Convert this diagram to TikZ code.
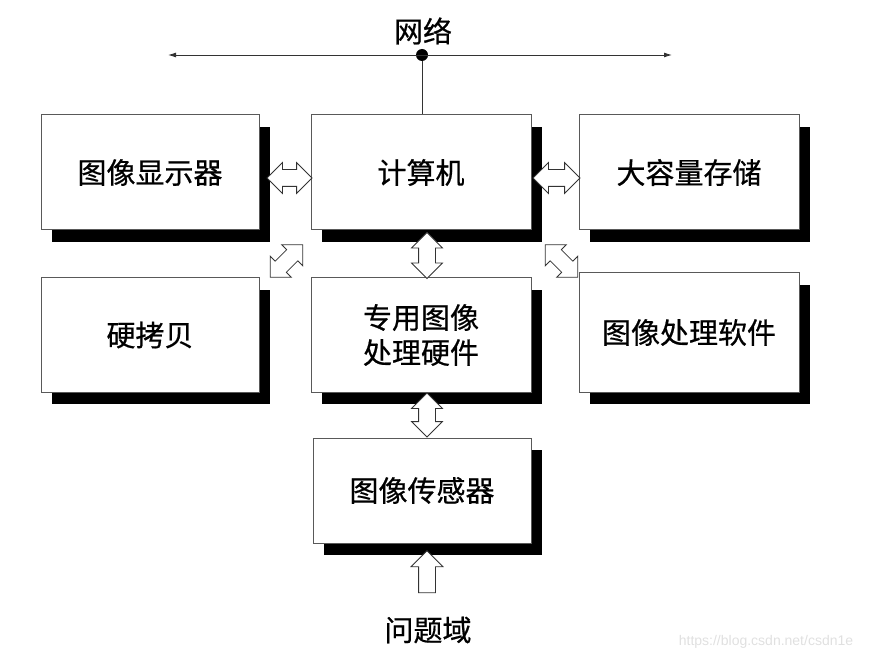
\documentclass[tikz,border=0pt]{standalone}
\usepackage{fontspec}
\newfontfamily\cjk[FakeBold=0.6]{Noto Sans CJK SC}
\newfontfamily\wmfont{Liberation Sans}
\usetikzlibrary{shapes.arrows,shadows,arrows.meta,calc}
\tikzset{
  blk/.style={draw=black!65, line width=1pt, fill=white, inner sep=0pt,
    font=\cjk\fontsize{29}{35}\selectfont, align=center,
    drop shadow={shadow xshift=11pt, shadow yshift=-12pt, fill=black, opacity=1}},
  darr/.style={double arrow, draw=black!80, line width=0.8pt, fill=white,
    inner xsep=0pt, inner ysep=8pt, minimum width=0pt,
    double arrow head extend=7pt, double arrow tip angle=90},
  sarr/.style={single arrow, draw=black!80, line width=0.8pt, fill=white,
    inner xsep=0pt, inner ysep=8pt, minimum width=0pt,
    single arrow head extend=7.5pt, single arrow tip angle=90},
  dgarr/.style={double arrow, draw=black!80, line width=0.8pt, fill=white,
    inner xsep=0pt, inner ysep=7.5pt, minimum width=0pt,
    double arrow head extend=7pt, double arrow tip angle=90},
  lbl/.style={font=\cjk\fontsize{29}{35}\selectfont, inner sep=0pt}
}
\begin{document}
\begin{tikzpicture}[x=1pt,y=-1pt]
\useasboundingbox (0,0) rectangle (875,660);
% network
\node[lbl] (net) at (423,31) {网络};
\coordinate (netL) at (168,55);
\coordinate (netR) at (672,55);
\node[circle, fill=black, inner sep=0pt, minimum size=12pt] (dot) at (422,55) {};
\draw[line width=0.9pt, black!80, {Latex[length=8pt,width=5pt]}-{Latex[length=8pt,width=5pt]}] (netL) -- (netR);
% boxes
\node[blk, minimum width=218pt, minimum height=115pt] (disp) at (150,172.5) {图像显示器};
\node[blk, minimum width=220pt, minimum height=115pt] (comp) at (421,172.5) {计算机};
\node[blk, minimum width=220pt, minimum height=115pt] (stor) at (689,172.5) {大容量存储};
\node[blk, minimum width=218pt, minimum height=114pt] (hard) at (150,335) {硬拷贝};
\node[blk, minimum width=220pt, minimum height=114pt] (proc) at (421,335) {专用图像\\处理硬件};
\node[blk, minimum width=220pt, minimum height=119pt] (soft) at (689,332.5) {图像处理软件};
\node[blk, minimum width=218pt, minimum height=105pt] (sens) at (422,490.5) {图像传感器};
\draw[line width=0.9pt, black!80] (dot) -- (dot |- comp.north);
% block arrows
\node[darr, minimum height=45pt] (a1) at (289.5,178) {};
\node[darr, minimum height=47pt] (a2) at (556.5,178) {};
\node[darr, minimum height=46pt, rotate=90] (a3) at (427,255.5) {};
\node[darr, minimum height=44pt, rotate=90] (a4) at (427,415) {};
\node[dgarr, minimum height=46pt, rotate=45] (a5) at (286.5,261) {};
\node[dgarr, minimum height=46pt, rotate=-45] (a6) at (561.5,261) {};
\node[sarr, minimum height=42pt, rotate=90] (a7) at (427,576) {};
\node[lbl] (dom) at (428,630) {问题域};
% watermark
\node[font=\wmfont\fontsize{14}{16}\selectfont, text=black!12, inner sep=0pt] (wm) at (766,642) {https://blog.csdn.net/csdn1e};
\end{tikzpicture}
\end{document}
